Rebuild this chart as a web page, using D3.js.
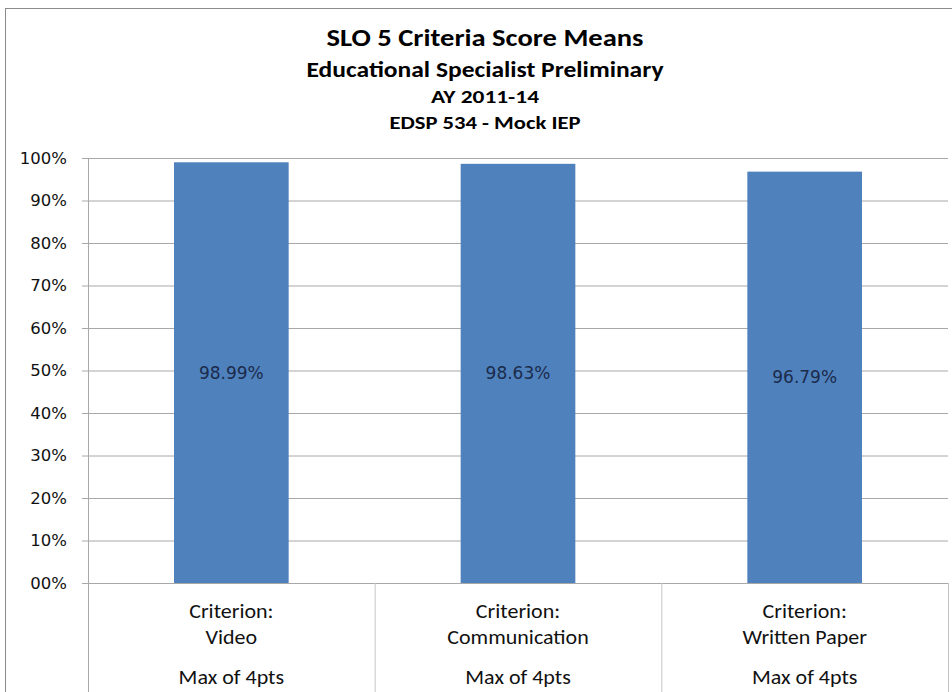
<!DOCTYPE html>
<html>
<head>
<meta charset="utf-8">
<script src="https://cdn.jsdelivr.net/npm/d3@7"></script>
<style>
  body { margin: 0; background: #fff; }
  svg { display: block; }
</style>
</head>
<body>
<svg id="chart" width="952" height="692"></svg>
<script>
// data
var categories = ["Video", "Communication", "Written Paper"];
var scores = [98.99, 98.63, 96.79];
var maxLabels = ["Max of 4pts", "Max of 4pts", "Max of 4pts"];
var yTicks = [0, 10, 20, 30, 40, 50, 60, 70, 80, 90, 100];
var titleLines = ["SLO 5 Criteria Score Means", "Educational Specialist Preliminary", "AY 2011-14", "EDSP 534 - Mock IEP"];

var svg = d3.select("#chart");
var plotL = 88, plotR = 948, plotT = 158, plotB = 583;
var titleFont = "Carlito, Calibri, 'Liberation Sans', sans-serif";

// outer chart border (runs off the right / bottom of the picture)
svg.append("rect")
    .attr("x", 5.5).attr("y", 8.5)
    .attr("width", 980).attr("height", 720)
    .attr("fill", "#fff")
    .attr("stroke", "#8c8c8c");

// titles - the source text is a bit wider than Carlito, so stretch it
var titleSizes = [25, 22, 19, 19];
var titleY = [46, 77, 103, 129];
var titleW = [317, 357, 108, 191];
svg.selectAll("text.title")
    .data(titleLines)
    .enter().append("text")
    .attr("class", "title")
    .attr("x", 485)
    .attr("y", function(d, i) { return titleY[i]; })
    .attr("text-anchor", "middle")
    .attr("textLength", function(d, i) { return titleW[i]; })
    .attr("lengthAdjust", "spacingAndGlyphs")
    .style("font-family", titleFont)
    .style("font-weight", "bold")
    .style("font-size", function(d, i) { return titleSizes[i] + "px"; })
    .attr("fill", "#000")
    .text(function(d) { return d; });

var x = d3.scaleBand()
    .domain(categories)
    .range([plotL, plotR])
    .paddingInner(0.6)
    .paddingOuter(0.3);

var y = d3.scaleLinear()
    .domain([0, 100])
    .range([plotB, plotT]);

// gridlines + y labels
var yAxis = d3.axisLeft(y)
    .tickValues(yTicks)
    .tickSize(-(plotR - plotL))
    .tickSizeOuter(0)
    .tickPadding(21)
    .tickFormat(function(d) { return d === 0 ? "00%" : d + "%"; });

var gy = svg.append("g")
    .attr("transform", "translate(" + plotL + ",0)")
    .call(yAxis);
gy.select(".domain").remove();
gy.selectAll(".tick line")
    .attr("x1", -6)
    .attr("stroke", "#a8a8a8");
gy.selectAll(".tick text")
    .style("font-family", "'DejaVu Sans', Verdana, sans-serif")
    .style("font-size", "16.5px")
    .attr("fill", "#111");

// bars
svg.append("g").selectAll("rect")
    .data(scores)
    .enter().append("rect")
    .attr("x", function(d, i) { return x(categories[i]); })
    .attr("y", function(d) { return y(d); })
    .attr("width", x.bandwidth())
    .attr("height", function(d) { return y(0) - y(d); })
    .attr("fill", "#4f81bd");

// value labels in the middle of each bar
svg.append("g").selectAll("text")
    .data(scores)
    .enter().append("text")
    .attr("x", function(d, i) { return x(categories[i]) + x.bandwidth() / 2; })
    .attr("y", function(d) { return y(d / 2) + 6; })
    .attr("text-anchor", "middle")
    .style("font-family", "'DejaVu Sans', Verdana, sans-serif")
    .style("font-size", "17px")
    .attr("fill", "#1b2b4b")
    .text(function(d) { return d.toFixed(2) + "%"; });

// vertical axis line and category table
svg.append("line")
    .attr("x1", plotL + 0.5).attr("x2", plotL + 0.5)
    .attr("y1", plotT).attr("y2", 692)
    .attr("stroke", "#a8a8a8");

svg.append("g").selectAll("line")
    .data(categories)
    .enter().append("line")
    .attr("x1", function(d) { return x(d) + x.bandwidth() / 2 + x.step() / 2 + 0.5; })
    .attr("x2", function(d) { return x(d) + x.bandwidth() / 2 + x.step() / 2 + 0.5; })
    .attr("y1", plotB).attr("y2", 692)
    .attr("stroke", "#c4c4c4");

var cat = svg.append("g").selectAll("g")
    .data(categories)
    .enter().append("g")
    .attr("transform", function(d) { return "translate(" + (x(d) + x.bandwidth() / 2) + ",0) scale(1.1,1)"; })
    .style("font-family", titleFont)
    .style("font-size", "20px")
    .attr("fill", "#111")
    .attr("text-anchor", "middle");

cat.append("text").attr("y", 618).text("Criterion:");
cat.append("text").attr("y", 644).text(function(d) { return d; });
cat.append("text").attr("y", 684).text(function(d, i) { return maxLabels[i]; });
</script>
</body>
</html>
